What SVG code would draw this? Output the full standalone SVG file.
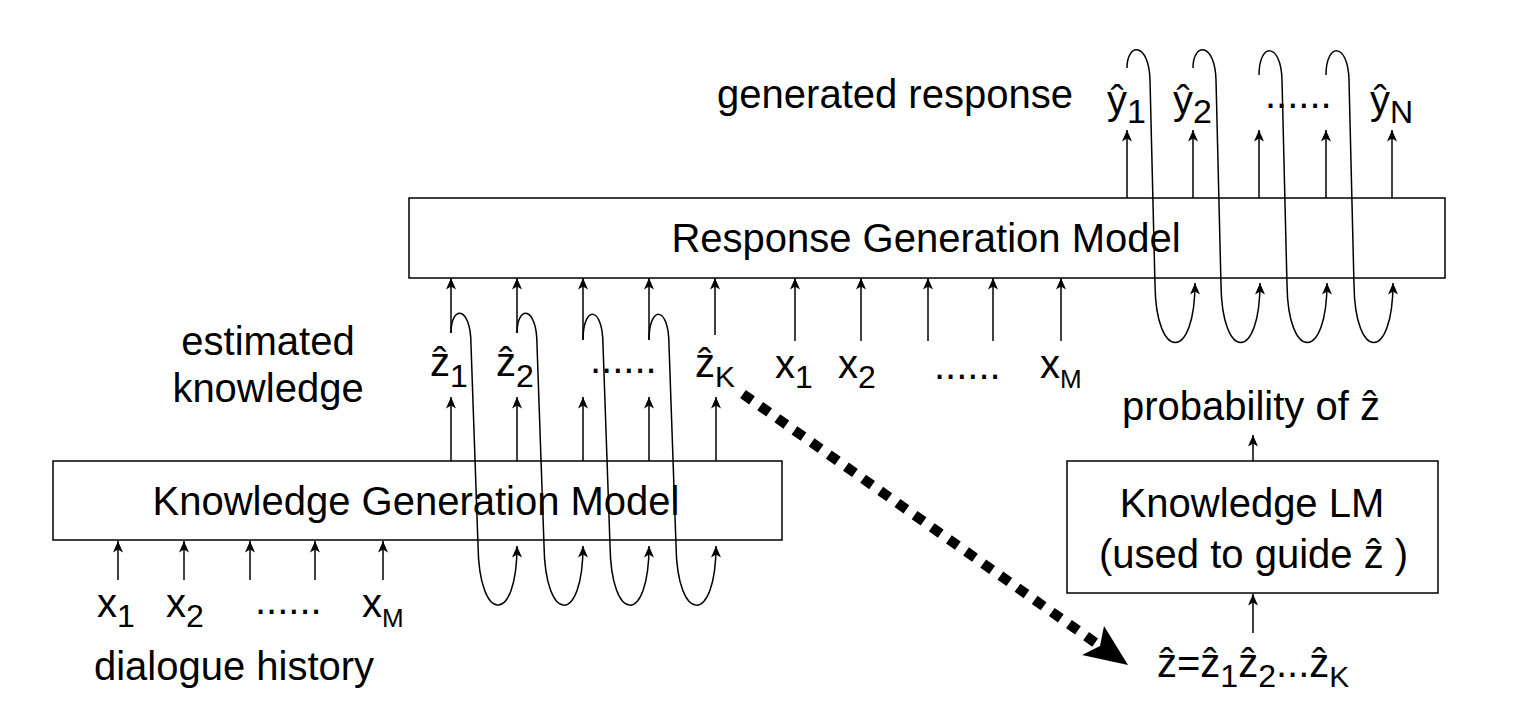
<svg xmlns="http://www.w3.org/2000/svg" width="1528" height="728" viewBox="0 0 1528 728">
<style>
.t{font-family:"Liberation Sans",Arial,sans-serif;font-size:40px;fill:#000}
.box{fill:#fff;stroke:#000;stroke-width:1.5}
.ln{fill:none;stroke:#000;stroke-width:1.5}
.mid{text-anchor:middle}
</style>
<defs>
<marker id="ah" viewBox="0 0 12 12" refX="11.5" refY="6" markerWidth="12" markerHeight="12" markerUnits="userSpaceOnUse" orient="auto">
<path d="M11.5,6 L0,1 L3,6 L0,11 Z" fill="#000"/>
</marker>
</defs>
<rect width="1528" height="728" fill="#fff"/>

<g id="rgm">
<rect class="box" x="409" y="198" width="1036" height="80"/>
<text class="t mid" x="926" y="252">Response Generation Model</text>
</g>
<g id="kgm">
<rect class="box" x="53" y="461" width="729" height="79"/>
<text class="t mid" x="416" y="515">Knowledge Generation Model</text>
</g>
<g id="klm">
<rect class="box" x="1067" y="461" width="371" height="132"/>
<text class="t mid" x="1252" y="517">Knowledge LM</text>
<text class="t" x="1099" y="568">(used to guide ẑ )</text>
</g>

<g id="labels">
<text class="t mid" x="895" y="108">generated response</text>
<text class="t mid" x="268" y="355">estimated</text>
<text class="t mid" x="268" y="402">knowledge</text>
<text class="t mid" x="234" y="680">dialogue history</text>
<text class="t" x="1122" y="420">probability of ẑ</text>
</g>

<g id="y-tokens">
<text class="t" x="1107" y="114">ŷ<tspan font-size="34" dy="9">1</tspan></text>
<text class="t" x="1173" y="114">ŷ<tspan font-size="34" dy="9">2</tspan></text>
<text class="t" x="1265" y="108">......</text>
<text class="t" x="1370" y="114">ŷ<tspan font-size="32" dy="9">N</tspan></text>
</g>

<g id="z-tokens">
<text class="t" x="430" y="376">ẑ<tspan font-size="32" dy="11">1</tspan></text>
<text class="t" x="496" y="376">ẑ<tspan font-size="32" dy="11">2</tspan></text>
<text class="t" x="590" y="373">......</text>
<text class="t" x="695" y="377">ẑ<tspan font-size="30" dy="10">K</tspan></text>
</g>

<g id="x-tokens-rgm">
<text class="t" x="775" y="378">x<tspan font-size="32" dy="10">1</tspan></text>
<text class="t" x="838" y="378">x<tspan font-size="32" dy="10">2</tspan></text>
<text class="t" x="934" y="379">......</text>
<text class="t" x="1040" y="378">x<tspan font-size="26" dy="10">M</tspan></text>
</g>

<g id="x-tokens-kgm">
<text class="t" x="97" y="617">x<tspan font-size="32" dy="10">1</tspan></text>
<text class="t" x="166" y="617">x<tspan font-size="32" dy="10">2</tspan></text>
<text class="t" x="255" y="614">......</text>
<text class="t" x="362" y="617">x<tspan font-size="26" dy="10">M</tspan></text>
</g>

<g id="z-sequence">
<text class="t" x="1157" y="677">ẑ=ẑ<tspan font-size="32" dy="10">1</tspan><tspan dy="-10">ẑ</tspan><tspan font-size="32" dy="10">2</tspan><tspan dy="-10">...ẑ</tspan><tspan font-size="30" dy="10">K</tspan></text>
</g>

<g id="connectors">
<path class="ln" marker-end="url(#ah)" d="M118,580 V541"/>
<path class="ln" marker-end="url(#ah)" d="M184,580 V541"/>
<path class="ln" marker-end="url(#ah)" d="M250,580 V541"/>
<path class="ln" marker-end="url(#ah)" d="M315,580 V541"/>
<path class="ln" marker-end="url(#ah)" d="M383,580 V541"/>
<path class="ln" marker-end="url(#ah)" d="M451,461 V397"/>
<path class="ln" marker-end="url(#ah)" d="M517,461 V397"/>
<path class="ln" marker-end="url(#ah)" d="M583,461 V397"/>
<path class="ln" marker-end="url(#ah)" d="M649,461 V397"/>
<path class="ln" marker-end="url(#ah)" d="M716,461 V397"/>
<path class="ln" marker-end="url(#ah)" d="M451,333 V278"/>
<path class="ln" marker-end="url(#ah)" d="M517,333 V278"/>
<path class="ln" marker-end="url(#ah)" d="M583,340 V278"/>
<path class="ln" marker-end="url(#ah)" d="M649,340 V278"/>
<path class="ln" marker-end="url(#ah)" d="M715,335 V278"/>
<path class="ln" marker-end="url(#ah)" d="M795,341 V278"/>
<path class="ln" marker-end="url(#ah)" d="M861,341 V278"/>
<path class="ln" marker-end="url(#ah)" d="M928,341 V278"/>
<path class="ln" marker-end="url(#ah)" d="M993,341 V278"/>
<path class="ln" marker-end="url(#ah)" d="M1061,341 V278"/>
<path class="ln" marker-end="url(#ah)" d="M1127,198 V130"/>
<path class="ln" marker-end="url(#ah)" d="M1193,198 V130"/>
<path class="ln" marker-end="url(#ah)" d="M1259,198 V130"/>
<path class="ln" marker-end="url(#ah)" d="M1326,198 V130"/>
<path class="ln" marker-end="url(#ah)" d="M1392,198 V130"/>
<path class="ln" marker-end="url(#ah)" d="M451,333 C451,305 471,305 471,345 L478,545 C479,625 517,625 517,546"/>
<path class="ln" marker-end="url(#ah)" d="M517,333 C517,305 537,305 537,345 L544,545 C545,625 583,625 583,546"/>
<path class="ln" marker-end="url(#ah)" d="M583,340 C583,305 603,305 603,345 L610,545 C611,625 649,625 649,546"/>
<path class="ln" marker-end="url(#ah)" d="M649,340 C649,305 669,305 669,345 L676,545 C677,625 716,625 716,546"/>
<path class="ln" marker-end="url(#ah)" d="M1127,68 C1127,42 1149,42 1150,80 L1155,285 C1156,362 1195,362 1195,283"/>
<path class="ln" marker-end="url(#ah)" d="M1193,68 C1193,42 1215,42 1216,80 L1221,285 C1222,362 1260,362 1260,283"/>
<path class="ln" marker-end="url(#ah)" d="M1259,75 C1259,42 1281,42 1282,80 L1287,285 C1288,362 1327,362 1327,283"/>
<path class="ln" marker-end="url(#ah)" d="M1326,75 C1326,42 1348,42 1349,80 L1354,285 C1355,362 1393,362 1393,283"/>
<path class="ln" marker-end="url(#ah)" d="M1253,461 V435"/>
<path class="ln" marker-end="url(#ah)" d="M1253,633 V594"/>
<path d="M743,394 L1100,646" fill="none" stroke="#000" stroke-width="10" stroke-dasharray="11 10"/>
<polygon points="1128,665 1082,655 1100,646 1104,626" fill="#000"/>
</g>
</svg>
